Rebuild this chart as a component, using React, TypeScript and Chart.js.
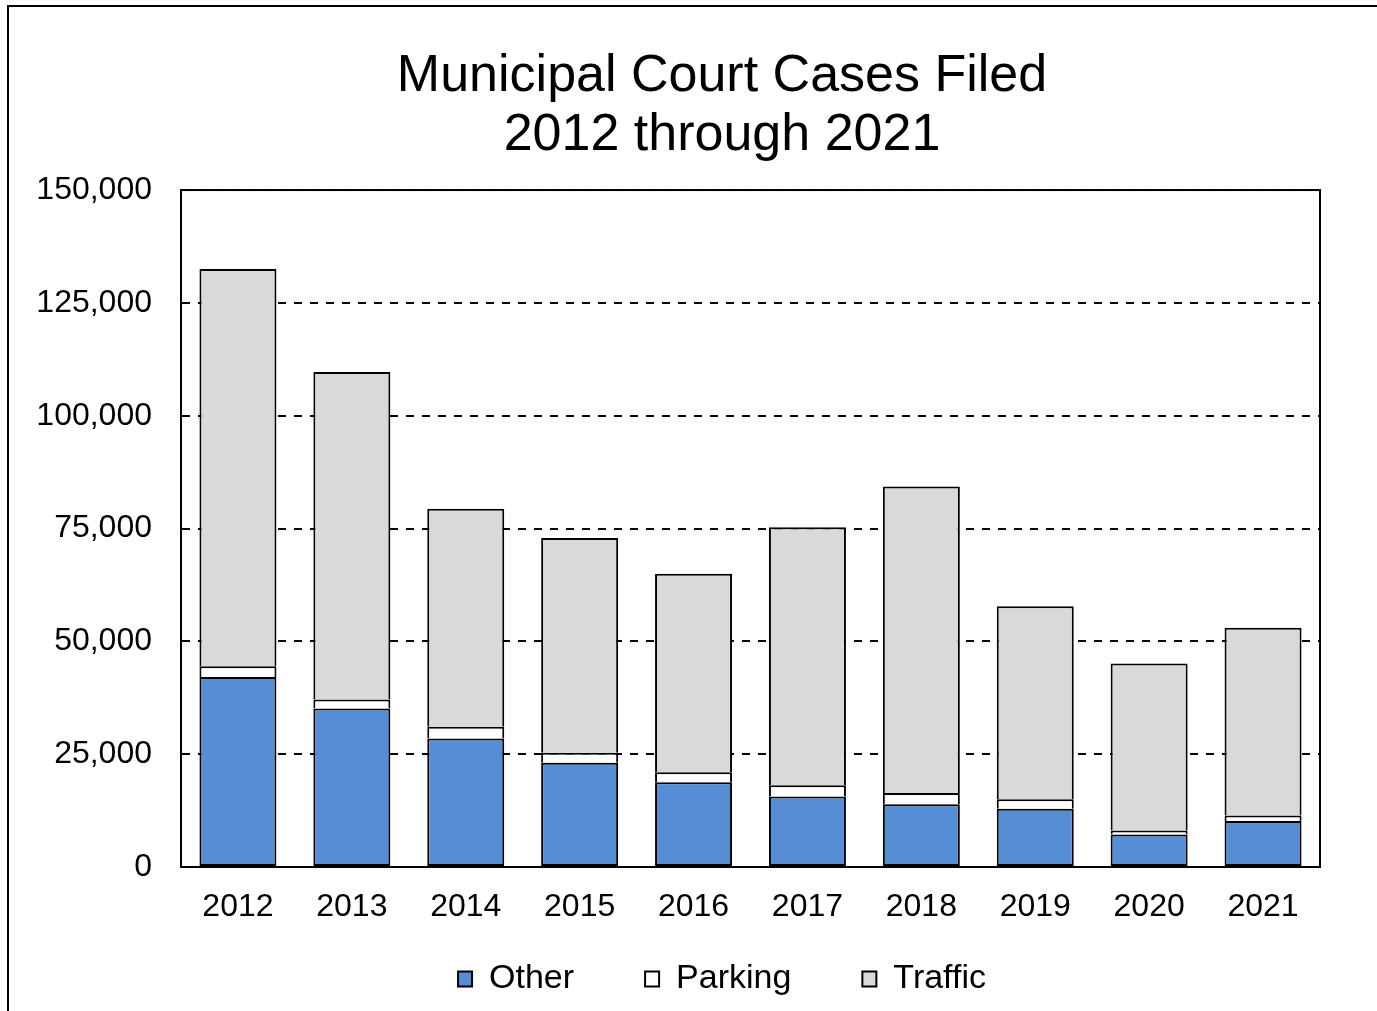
import React, { useEffect, useRef } from "react";
import { Chart, registerables } from "chart.js";

Chart.register(...registerables);

const years = ["2012", "2013", "2014", "2015", "2016", "2017", "2018", "2019", "2020", "2021"];
const otherCases = [42100, 35100, 28500, 23100, 18800, 15600, 13900, 12900, 7200, 10200];
const parkingCases = [2400, 2000, 2600, 2200, 2200, 2500, 2500, 2100, 900, 1200];
const trafficCases = [88000, 72600, 48300, 47600, 44000, 57200, 67900, 42800, 37000, 41600];
const titleLines = ["Municipal Court Cases Filed", "2012 through 2021"];

const FONT = "'Liberation Sans', Arial, sans-serif";
const W = 1436;
const H = 1004;

const plotFrame = {
  id: "plotFrame",
  afterDraw(chart: any) {
    const { ctx, chartArea } = chart;
    ctx.save();
    ctx.strokeStyle = "#000";
    ctx.lineWidth = 2;
    ctx.setLineDash([]);
    ctx.strokeRect(chartArea.left, chartArea.top, chartArea.right - chartArea.left, chartArea.bottom - chartArea.top);
    ctx.restore();
  },
};

export default function App() {
  const ref = useRef<HTMLCanvasElement | null>(null);

  useEffect(() => {
    document.documentElement.style.overflow = "hidden";
    document.body.style.overflow = "hidden";
    const canvas = ref.current!;
    Chart.defaults.color = "#000";
    const chart = new Chart(canvas, {
      type: "bar",
      data: {
        labels: years,
        datasets: [
          {
            label: "Other",
            data: otherCases,
            backgroundColor: "rgb(85,142,213)",
            borderColor: "#000",
            borderWidth: 2,
            borderSkipped: false,
            categoryPercentage: 1,
            barPercentage: 0.676,
          },
          {
            label: "Parking",
            data: parkingCases,
            backgroundColor: "#ffffff",
            borderColor: "#000",
            borderWidth: 2,
            borderSkipped: "start",
            categoryPercentage: 1,
            barPercentage: 0.676,
          },
          {
            label: "Traffic",
            data: trafficCases,
            backgroundColor: "rgb(217,217,217)",
            borderColor: "#000",
            borderWidth: 2,
            borderSkipped: "start",
            categoryPercentage: 1,
            barPercentage: 0.676,
          },
        ],
      },
      options: {
        responsive: false,
        animation: false,
        layout: { padding: { left: 0, right: 10, top: 0, bottom: 5 } },
        plugins: {
          title: {
            display: true,
            text: titleLines,
            color: "#000",
            font: { family: FONT, size: 52, weight: "normal", lineHeight: 1.135 },
            padding: { top: 40.5, bottom: 24.5 },
          },
          legend: {
            display: true,
            position: "bottom",
            labels: {
              color: "#000",
              font: { family: FONT, size: 34 },
              boxWidth: 14,
              boxHeight: 15,
              padding: 71,
            },
          },
          tooltip: { enabled: false },
        },
        scales: {
          x: {
            stacked: true,
            grid: { display: false, drawTicks: false },
            border: { display: true, color: "#000", width: 2 },
            ticks: {
              color: "#000",
              font: { family: FONT, size: 32 },
              mirror: true,
              padding: -59,
              maxRotation: 0,
              autoSkip: false,
            },
            afterFit: (s: any) => {
              s.height = 24;
            },
          },
          y: {
            stacked: true,
            min: 0,
            max: 150000,
            grid: { display: true, color: "#000", lineWidth: 2, drawTicks: false },
            border: { display: true, color: "#000", width: 2, dash: [8, 8] },
            ticks: {
              stepSize: 25000,
              color: "#000",
              font: { family: FONT, size: 32 },
              padding: 29,
              callback: (v: any) => Number(v).toLocaleString("en-US"),
            },
            afterFit: (s: any) => {
              s.width = 172;
            },
          },
          yRight: {
            type: "linear",
            position: "right",
            display: true,
            grid: { display: false, drawTicks: false },
            border: { display: false },
            ticks: { display: false },
            afterFit: (s: any) => {
              s.width = 115;
            },
          },
        },
      },
      plugins: [plotFrame],
    } as any);
    return () => chart.destroy();
  }, []);

  return (
    <div
      style={{
        position: "fixed",
        left: 7,
        top: 5,
        width: 1370,
        height: 1006,
        overflow: "hidden",
        borderLeft: "2px solid #000",
        borderTop: "2px solid #000",
        background: "#fff",
      }}
    >
      <canvas ref={ref} width={W} height={H} style={{ display: "block", width: W, height: H }} />
    </div>
  );
}
